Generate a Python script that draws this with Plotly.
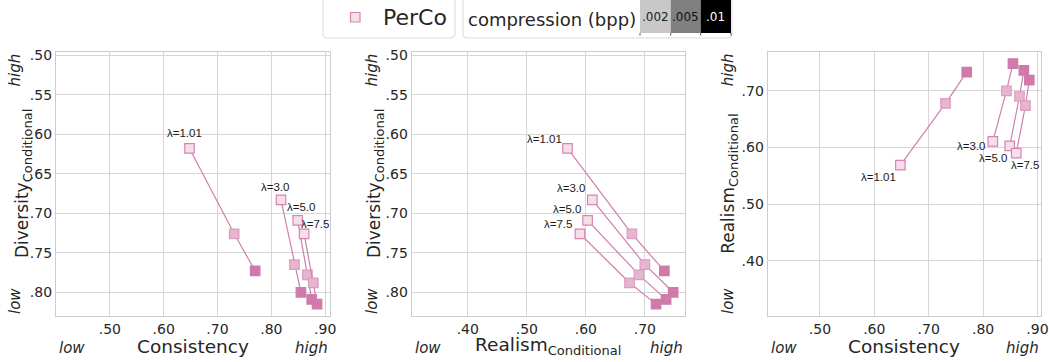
import plotly.graph_objects as go

W, H = 1049, 362

# ---------------- data ----------------
lambdas = ["1.01", "3.0", "5.0", "7.5"]
bpp_labels = [".002", ".005", ".01"]
consistency = [
    [0.648, 0.731, 0.770],
    [0.818, 0.843, 0.855],
    [0.849, 0.867, 0.875],
    [0.861, 0.878, 0.885],
]
diversity = [
    [0.618, 0.726, 0.773],
    [0.683, 0.765, 0.800],
    [0.709, 0.778, 0.809],
    [0.726, 0.788, 0.815],
]
realism = [
    [0.569, 0.678, 0.733],
    [0.611, 0.700, 0.748],
    [0.603, 0.690, 0.736],
    [0.590, 0.674, 0.719],
]
cons_ticks = [0.50, 0.60, 0.70, 0.80, 0.90]
cons_ticktext = [".50", ".60", ".70", ".80", ".90"]
div_ticks = [0.50, 0.55, 0.60, 0.65, 0.70, 0.75, 0.80]
div_ticktext = [".50", ".55", ".60", ".65", ".70", ".75", ".80"]
real_x_ticks = [0.40, 0.50, 0.60, 0.70]
real_x_ticktext = [".40", ".50", ".60", ".70"]
real_y_ticks = [0.40, 0.50, 0.60, 0.70]
real_y_ticktext = [".40", ".50", ".60", ".70"]

# ---------------- styles ----------------
FONT = "DejaVu Sans"
TXT = "#262626"
GRID = "#d6d6d6"
SPINE = "#cccccc"
LINE_C = "#cf7fae"
FILLS = ["#f5e0ea", "#e6b5cf", "#cf7aab"]
EDGES = ["#d883b3", "#dc9dc0", "#cf7aab"]
SW_COL = ["#c8c8c8", "#808080", "#000000"]
SW_TXT = ["#222222", "#111111", "#ffffff"]


def px(x):
    return x / W


def py(y):
    return 1 - y / H


# panel pixel boxes: (left, right, top, bottom)
panels = [
    (56, 330, 52, 316),
    (411.7, 685, 52, 316),
    (767.7, 1040.7, 51.7, 316),
]

fig = go.Figure()

pairs = [
    (consistency, diversity),
    (realism, diversity),
    (consistency, realism),
]

for p, (xs, ys) in enumerate(pairs):
    xa = "x" if p == 0 else f"x{p+1}"
    ya = "y" if p == 0 else f"y{p+1}"
    for i, lam in enumerate(lambdas):
        fig.add_trace(go.Scatter(
            x=xs[i], y=ys[i], mode="lines+markers", xaxis=xa, yaxis=ya,
            line=dict(color=LINE_C, width=1.2),
            marker=dict(symbol="square", size=9.5, color=FILLS,
                        line=dict(color=EDGES, width=1.2)),
            showlegend=False, hoverinfo="skip", cliponaxis=False,
        ))

axis_common = dict(showgrid=True, gridcolor=GRID, gridwidth=1, zeroline=False,
                   showline=True, linecolor=SPINE, linewidth=1.2, mirror=True,
                   ticks="", tickfont=dict(family=FONT, size=14, color=TXT),
                   automargin=False, fixedrange=True)

xranges = [[0.40, 0.909], [0.305, 0.768], [0.404, 0.906]]
yranges = [[0.830, 0.496], [0.830, 0.496], [0.303, 0.769]]
xt = [(cons_ticks, cons_ticktext), (real_x_ticks, real_x_ticktext), (cons_ticks, cons_ticktext)]
yt = [(div_ticks, div_ticktext), (div_ticks, div_ticktext), (real_y_ticks, real_y_ticktext)]

layout_axes = {}
for p, (l, r, t, b) in enumerate(panels):
    sfx = "" if p == 0 else str(p + 1)
    layout_axes["xaxis" + sfx] = dict(
        axis_common, domain=[px(l), px(r)], range=xranges[p],
        tickvals=xt[p][0], ticktext=xt[p][1],
        anchor="y" + sfx)
    layout_axes["yaxis" + sfx] = dict(
        axis_common, domain=[py(b), py(t)], range=yranges[p],
        tickvals=yt[p][0], ticktext=yt[p][1],
        anchor="x" + sfx)

annotations = []
shapes = []

# axis titles + low/high
xtitles = ["Consistency",
           "Realism<sub><span style='font-size:13px'>Conditional</span></sub>",
           "Consistency"]
ytitles = ["Diversity<sub><span style='font-size:13px'>Conditional</span></sub>",
           "Diversity<sub><span style='font-size:13px'>Conditional</span></sub>",
           "Realism<sub><span style='font-size:13px'>Conditional</span></sub>"]
ytitle_x = [23, 375, 730]
yhl_x = [15, 372, 728]

for p, (l, r, t, b) in enumerate(panels):
    cx = (l + r) / 2
    cy = (t + b) / 2
    annotations.append(dict(text=xtitles[p], x=px(cx), y=py(346), xref="paper", yref="paper",
                            showarrow=False, xanchor="center", yanchor="middle",
                            font=dict(family=FONT, size=18.5, color=TXT)))
    annotations.append(dict(text="<i>low</i>", x=px(l + 1), y=py(348), xref="paper", yref="paper",
                            showarrow=False, xanchor="left", yanchor="middle",
                            font=dict(family=FONT, size=15, color=TXT)))
    annotations.append(dict(text="<i>high</i>", x=px(r), y=py(348), xref="paper", yref="paper",
                            showarrow=False, xanchor="right", yanchor="middle",
                            font=dict(family=FONT, size=15, color=TXT)))
    annotations.append(dict(text=ytitles[p], x=px(ytitle_x[p]), y=py(cy), xref="paper", yref="paper",
                            showarrow=False, xanchor="center", yanchor="middle", textangle=-90,
                            font=dict(family=FONT, size=17, color=TXT)))
    annotations.append(dict(text="<i>high</i>", x=px(yhl_x[p]), y=py(t), xref="paper", yref="paper",
                            showarrow=False, xanchor="center", yanchor="top", textangle=-90,
                            font=dict(family=FONT, size=15, color=TXT)))
    annotations.append(dict(text="<i>low</i>", x=px(yhl_x[p]), y=py(b), xref="paper", yref="paper",
                            showarrow=False, xanchor="center", yanchor="bottom", textangle=-90,
                            font=dict(family=FONT, size=15, color=TXT)))

# lambda labels (offsets in pixels relative to lightest point)
label_offsets = [
    [(-5, 15), (-6, 13), (3, 13), (11, 10)],
    [(-23, 9), (-21, 11.5), (-21, 11), (-22, 9.5)],
    [(-22, -12), (-22, -4.5), (-17, -12.3), (8.5, -11.6)],
]
for p, (xs, ys) in enumerate(pairs):
    xr = "x" if p == 0 else f"x{p+1}"
    yr = "y" if p == 0 else f"y{p+1}"
    for i, lam in enumerate(lambdas):
        dx, dy = label_offsets[p][i]
        annotations.append(dict(text=f"λ={lam}", x=xs[i][0], y=ys[i][0], xref=xr, yref=yr,
                                showarrow=False, xanchor="center", yanchor="middle",
                                xshift=dx, yshift=dy,
                                font=dict(family="Liberation Sans", size=11.5, color="#1a1a1a")))


def rounded_rect(x0, y0, x1, y1, r):
    # pixel coords, y down
    pts = (f"M {px(x0 + r)},{py(y0)} L {px(x1 - r)},{py(y0)} Q {px(x1)},{py(y0)} {px(x1)},{py(y0 + r)} "
           f"L {px(x1)},{py(y1 - r)} Q {px(x1)},{py(y1)} {px(x1 - r)},{py(y1)} "
           f"L {px(x0 + r)},{py(y1)} Q {px(x0)},{py(y1)} {px(x0)},{py(y1 - r)} "
           f"L {px(x0)},{py(y0 + r)} Q {px(x0)},{py(y0)} {px(x0 + r)},{py(y0)} Z")
    return dict(type="path", path=pts, xref="paper", yref="paper",
                line=dict(color="#d9d9d9", width=1), fillcolor="rgba(255,255,255,0.9)", layer="above")


# legend box 1: PerCo
shapes.append(rounded_rect(323, -6, 455, 38, 4))
shapes.append(dict(type="rect", xref="paper", yref="paper",
                   x0=px(350.5), x1=px(360), y0=py(22), y1=py(12.5),
                   fillcolor=FILLS[0], line=dict(color=EDGES[0], width=1.2), layer="above"))
annotations.append(dict(text="PerCo", x=px(381), y=py(18), xref="paper", yref="paper",
                        showarrow=False, xanchor="left", yanchor="middle",
                        font=dict(family=FONT, size=22, color=TXT)))

# legend box 2: compression swatches
shapes.append(rounded_rect(463, -6, 732, 38, 4))
annotations.append(dict(text="compression (bpp)", x=px(466), y=py(19), xref="paper", yref="paper",
                        showarrow=False, xanchor="left", yanchor="middle",
                        font=dict(family=FONT, size=18, color=TXT)))
sw_edges = [640, 670.7, 700.7, 731]
for k in range(3):
    shapes.append(dict(type="rect", xref="paper", yref="paper",
                       x0=px(sw_edges[k]), x1=px(sw_edges[k + 1]), y0=py(33), y1=py(0),
                       fillcolor=SW_COL[k], line=dict(width=0), layer="above"))
    annotations.append(dict(text=bpp_labels[k], x=px((sw_edges[k] + sw_edges[k + 1]) / 2), y=py(17),
                            xref="paper", yref="paper", showarrow=False,
                            xanchor="center", yanchor="middle",
                            font=dict(family=FONT, size=12, color=SW_TXT[k])))
for e in sw_edges:
    shapes.append(dict(type="line", xref="paper", yref="paper",
                       x0=px(e), x1=px(e), y0=py(33), y1=py(35.5),
                       line=dict(color="#555555", width=1), layer="above"))

fig.update_layout(
    template="none",
    width=W, height=H,
    margin=dict(l=0, r=0, t=0, b=0, autoexpand=False),
    paper_bgcolor="white", plot_bgcolor="white",
    showlegend=False,
    annotations=annotations,
    shapes=shapes,
    **layout_axes,
)

fig.write_html("out.html", config={"displayModeBar": False})
